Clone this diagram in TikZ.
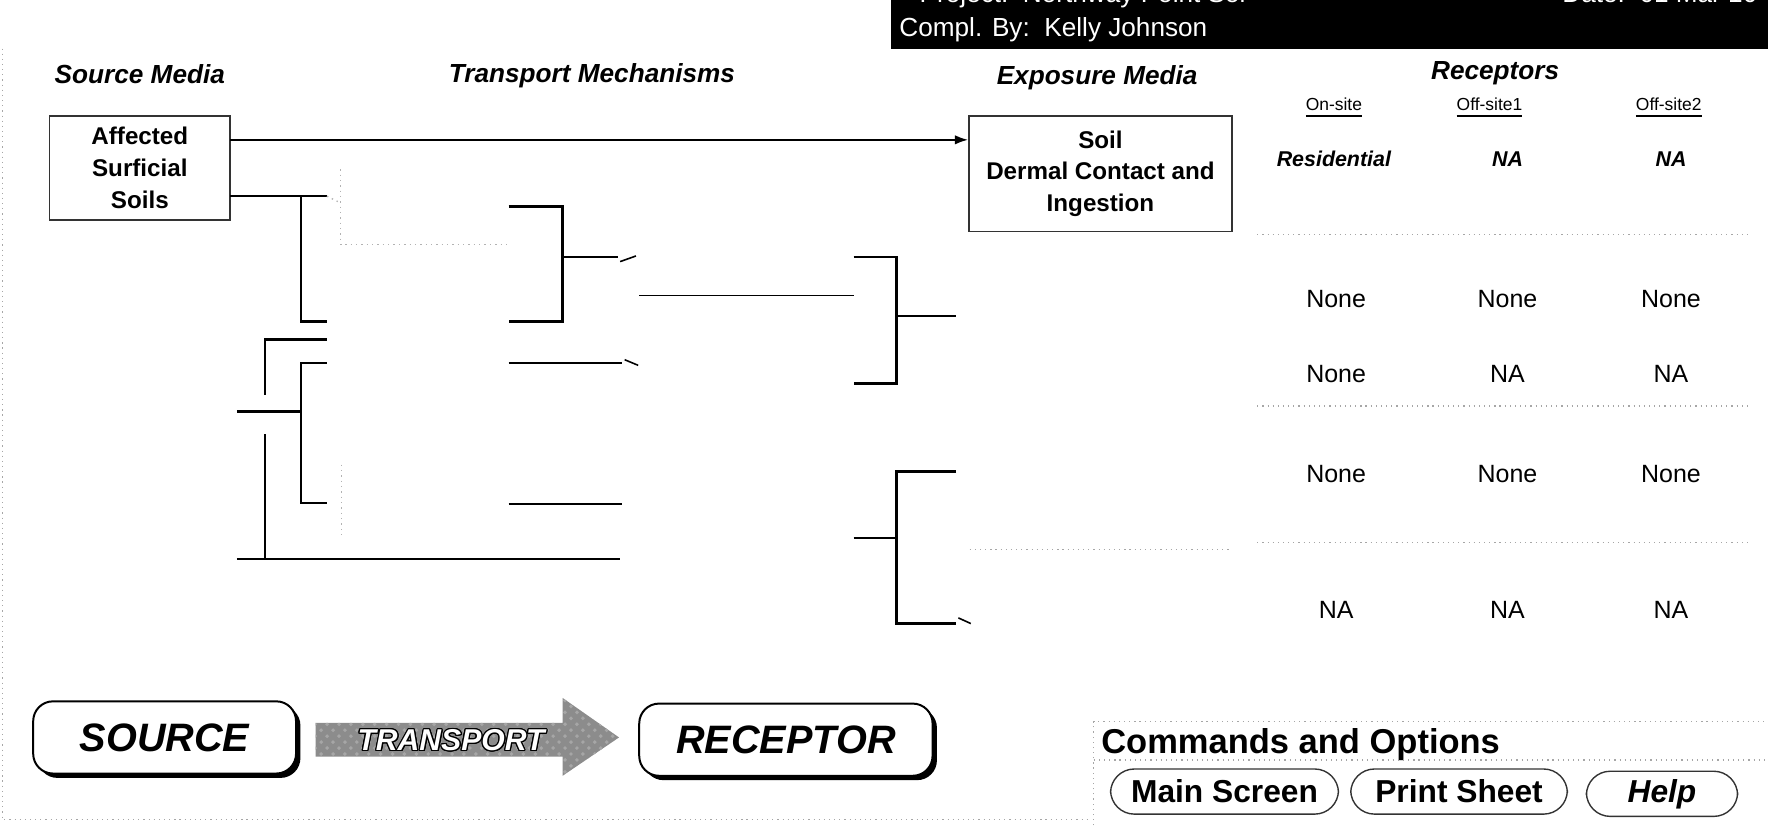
\documentclass[tikz,border=0pt]{standalone}
\usepackage{fontspec}
\setmainfont{Liberation Sans}
\usepackage{xcolor}
\usepackage{contour}
\usepackage{tikz}
\usetikzlibrary{arrows.meta,shadows,patterns}
\contourlength{0.3pt}

\begin{document}
\begin{tikzpicture}[x=0.01cm,y=-0.01cm,
        line/.style={line width=0.6pt},
        faint/.style={gray!60,line width=0.35pt,densely dotted},
        sep/.style={gray!70,line width=0.3pt,densely dotted},
        head/.style={font=\fontsize{6.6}{8}\selectfont\bfseries\itshape},
        media/.style={draw=black!80,line width=0.35pt,align=center,inner sep=0pt,font=\fontsize{6.1}{8}\selectfont\bfseries},
        cell/.style={font=\fontsize{6.3}{8}\selectfont},
        sub/.style={font=\fontsize{4.4}{6}\selectfont},
        bigbox/.style={draw,line width=0.5pt,rounded corners=5pt,fill=white,inner sep=0pt,
            drop shadow={shadow xshift=1.1pt,shadow yshift=-1.1pt,fill=black,opacity=1},
            font=\fontsize{10}{12}\selectfont\bfseries\itshape},
        button/.style={draw=black!80,line width=0.35pt,rounded corners=6pt,inner sep=0pt,font=\fontsize{8}{10}\selectfont\bfseries}]
        \useasboundingbox (0,0) rectangle (1568,732);

        \fill[black] (790,0) rectangle (1568,43);
        \begin{scope}
        \clip (790,0) rectangle (1568,43);
        \node[anchor=base west,inner sep=0pt,text=white,font=\fontsize{6.6}{8}\selectfont] (project) at (815,2) {Project:\ \ Northway Point Sol};
        \node[anchor=base west,inner sep=0pt,text=white,font=\fontsize{6.6}{8}\selectfont] (date) at (1385,2) {Date:\ \ 01 Mar 10};
        \end{scope}
        \node[anchor=west,inner sep=0pt,text=white,font=\fontsize{6.6}{8}\selectfont] (compl) at (797,26) {Compl. By:\ \ Kelly Johnson};

        \draw[sep] (2,43) -- (2,727) -- (967,727);

        \node[head] (srcmedia) at (124,66) {Source Media};
        \node[head] (transmech) at (525,67) {Transport Mechanisms};
        \node[head] (expmedia) at (973,69) {Exposure Media};
        \node[head] (receptors) at (1326,65) {Receptors};
        \node[sub] (onsite) at (1183,96) {\underline{On-site}};
        \node[sub] (offsite1) at (1321,96) {\underline{Off-site1}};
        \node[sub] (offsite2) at (1480,96) {\underline{Off-site2}};
        \node[sub,font=\fontsize{5.4}{6}\selectfont\bfseries\itshape] (resid) at (1183,141) {Residential};
        \node[sub,font=\fontsize{5.4}{6}\selectfont\bfseries\itshape] (na1) at (1337,141) {NA};
        \node[sub,font=\fontsize{5.4}{6}\selectfont\bfseries\itshape] (na2) at (1482,141) {NA};

        \node[media,minimum width=1.6cm,minimum height=0.92cm] (src) at (124,149) {Affected\\Surficial\\Soils};
        \node[media,minimum width=2.33cm,minimum height=1.02cm] (soil) at (976,154) {Soil\\Dermal Contact and\\Ingestion};

        \coordinate (s1) at (204,124);
        \draw[line,-{Latex[length=3.4pt,width=2.4pt]}] (s1) -- (s1 -| soil.west);

        \coordinate (s2) at (204,174);
        \coordinate (s3) at (290,174);
        \coordinate (t1) at (267,174);
        \coordinate (t2) at (267,285);
        \coordinate (t3) at (290,285);
        \draw[line] (s2) -- (s3);
        \draw[line] (t1) -- (t2) -- (t3);
        \draw[faint] (s3) -- ++(10,5);

        \coordinate (g1) at (302,150);
        \coordinate (g2) at (302,217);
        \coordinate (g3) at (451,217);
        \draw[faint] (g1) -- (g2) -- (g3);

        \coordinate (a1) at (451,183);
        \coordinate (a2) at (499,183);
        \coordinate (a3) at (499,285);
        \coordinate (a4) at (451,285);
        \coordinate (a5) at (499,228);
        \coordinate (a6) at (548,228);
        \draw[line] (a1) -- (a2) -- (a3) -- (a4);
        \draw[line] (a5) -- (a6);
        \draw[line,line width=0.4pt] (550,232) -- ++(14,-5);

        \coordinate (m1) at (567,262);
        \coordinate (m2) at (757,262);
        \draw[line,line width=0.4pt] (m1) -- (m2);

        \coordinate (b1) at (757,228);
        \coordinate (b2) at (795,228);
        \coordinate (b3) at (795,340);
        \coordinate (b4) at (757,340);
        \coordinate (b5) at (795,280);
        \coordinate (b6) at (848,280);
        \draw[line] (b1) -- (b2) -- (b3) -- (b4);
        \draw[line] (b5) -- (b6);

        \coordinate (l1) at (290,301);
        \coordinate (l2) at (235,301);
        \coordinate (l3) at (235,350);
        \coordinate (l4) at (290,322);
        \coordinate (l5) at (267,322);
        \coordinate (l6) at (267,446);
        \coordinate (l7) at (290,446);
        \coordinate (l8) at (210,365);
        \coordinate (l9) at (267,365);
        \coordinate (l10) at (235,385);
        \coordinate (l11) at (235,496);
        \coordinate (l12) at (210,496);
        \coordinate (l13) at (550,496);
        \draw[line] (l1) -- (l2) -- (l3);
        \draw[line] (l4) -- (l5) -- (l6) -- (l7);
        \draw[line] (l8) -- (l9);
        \draw[line] (l10) -- (l11);
        \draw[line] (l12) -- (l13);

        \coordinate (n1) at (451,322);
        \coordinate (n2) at (552,322);
        \draw[line] (n1) -- (n2);
        \draw[line,line width=0.4pt] (554,319) -- ++(12,5);
        \coordinate (p1) at (451,447);
        \coordinate (p2) at (552,447);
        \draw[line] (p1) -- (p2);
        \coordinate (q1) at (303,412);
        \coordinate (q2) at (303,474);
        \draw[faint] (q1) -- (q2);

        \coordinate (k1) at (848,418);
        \coordinate (k2) at (795,418);
        \coordinate (k3) at (795,553);
        \coordinate (k4) at (848,553);
        \coordinate (k5) at (757,477);
        \coordinate (k6) at (795,477);
        \draw[line] (k1) -- (k2) -- (k3) -- (k4);
        \draw[line] (k5) -- (k6);
        \draw[line,line width=0.4pt] (850,548) -- ++(11,5);

        \draw[sep] (1115,208) -- (1550,208);
        \draw[sep] (1115,360) -- (1550,360);
        \draw[sep] (1115,481) -- (1550,481);
        \draw[sep] (860,487) -- (1093,487);

        \node[cell] (r1c1) at (1185,265) {None};
        \node[cell] (r1c2) at (1337,265) {None};
        \node[cell] (r1c3) at (1482,265) {None};
        \node[cell] (r2c1) at (1185,332) {None};
        \node[cell] (r2c2) at (1337,332) {NA};
        \node[cell] (r2c3) at (1482,332) {NA};
        \node[cell] (r3c1) at (1185,420) {None};
        \node[cell] (r3c2) at (1337,420) {None};
        \node[cell] (r3c3) at (1482,420) {None};
        \node[cell] (r4c1) at (1185,541) {NA};
        \node[cell] (r4c2) at (1337,541) {NA};
        \node[cell] (r4c3) at (1482,541) {NA};

        \node[bigbox,minimum width=2.33cm,minimum height=0.64cm] (source) at (146,654) {SOURCE};
        \node[bigbox,minimum width=2.6cm,minimum height=0.64cm] (receptor) at (697,656) {RECEPTOR};
        \fill[black!45] (280,641) -- (499,641) -- (499,619) -- (549,654) -- (499,688) -- (499,671) -- (280,671) -- cycle;
        \fill[pattern=crosshatch dots,pattern color=black!35] (280,641) -- (499,641) -- (499,619) -- (549,654) -- (499,688) -- (499,671) -- (280,671) -- cycle;
        \node[font=\fontsize{7.6}{9}\selectfont\bfseries\itshape] (transport) at (400,657) {\contour{black}{\textcolor{white}{TRANSPORT}}};

        \draw[sep] (970,732) -- (970,640) -- (1568,640);
        \node[anchor=west,inner sep=0pt,font=\fontsize{8.7}{10}\selectfont\bfseries] (cmds) at (976,660) {Commands and Options};
        \draw[sep] (970,674) -- (1568,674);
        \node[button,minimum width=2.02cm,minimum height=0.4cm] (mainscr) at (1086,702) {Main Screen};
        \node[button,minimum width=1.92cm,minimum height=0.4cm] (printsh) at (1294,702) {Print Sheet};
        \node[button,minimum width=1.34cm,minimum height=0.4cm,font=\fontsize{8}{10}\selectfont\bfseries\itshape] (help) at (1474,704) {Help};
    \end{tikzpicture}
\end{document}
